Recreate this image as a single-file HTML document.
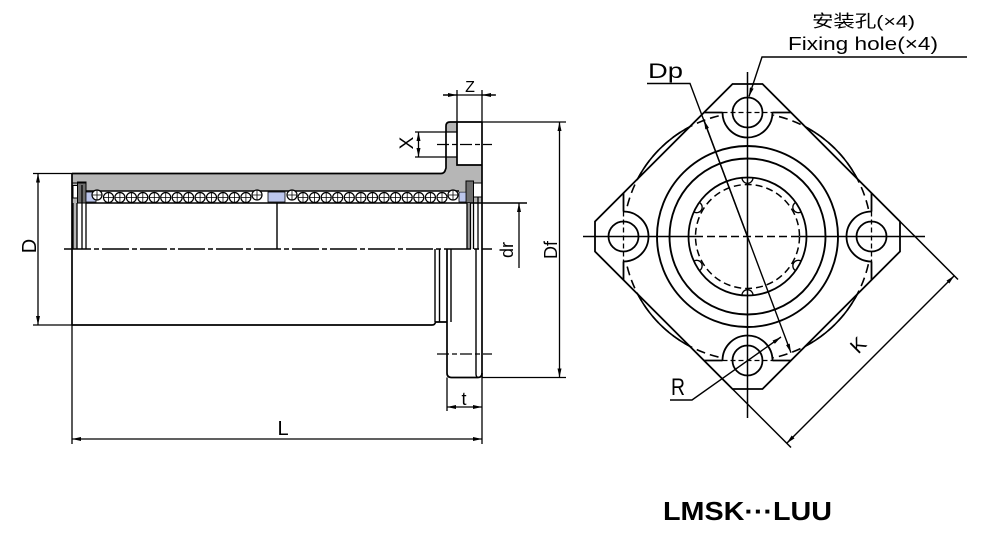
<!DOCTYPE html>
<html><head><meta charset="utf-8"><style>html,body{margin:0;padding:0;background:#fff}svg{display:block}</style></head>
<body>
<svg width="993" height="541" viewBox="0 0 993 541" xmlns="http://www.w3.org/2000/svg" font-family="'Liberation Sans', sans-serif">
<defs>
<marker id="a" viewBox="0 0 9 4" refX="9" refY="2" markerWidth="9" markerHeight="4" markerUnits="userSpaceOnUse" orient="auto-start-reverse"><path d="M0,0 L9,2 L0,4 z" fill="#000"/></marker>
</defs>
<rect width="993" height="541" fill="#fff"/>

<!-- ================= LEFT VIEW ================= -->
<g stroke="#000" fill="none" stroke-width="1.7">
<path d="M72,173.5 L441,173.5 Q444.5,173.5 445.5,169.5 L446,168 L446,126 Q446,122 450,122 L457,122 L457,165 L482,165 L482,191 L86,191 L86,183 L72,183 Z" fill="#b6b6b6" stroke="none"/>
<rect x="446" y="132" width="11" height="25" fill="#fff" stroke="none"/>
<rect x="72" y="183" width="14" height="20" fill="#b6b6b6" stroke="none"/>
<rect x="77.5" y="182" width="8.5" height="21" fill="#6f6f6f" stroke-width="1"/>
<rect x="73" y="185.5" width="4.5" height="12.5" fill="#fff" stroke-width="1"/>
<rect x="86" y="192" width="10" height="10" fill="#bcc6ec" stroke-width="0.8"/>
<rect x="268" y="192" width="17" height="10" fill="#bcc6ec" stroke-width="0.8"/>
<rect x="466" y="181" width="16" height="22" fill="#b6b6b6" stroke="none"/>
<rect x="466" y="181" width="7.5" height="22" fill="#6f6f6f" stroke-width="1"/>
<rect x="473.5" y="183" width="8.5" height="14" fill="#fff" stroke-width="1"/>
<rect x="459" y="192" width="7" height="10" fill="#bcc6ec" stroke-width="0.8"/>

<path d="M72,173.5 L441,173.5 Q444.5,173.5 445.5,169.5 L446,168 L446,126 Q446,122 450,122 L482,122"/>
<path d="M457,122 L457,165 L482,165"/>
<path d="M482,122 L482,377.5"/>
<path d="M72,173.5 L72,325"/>
<path d="M86,191 L459,191" stroke-width="1.4"/>
<path d="M86,203 L527,203" stroke-width="1.4"/>
<path d="M72,183 L86,183" stroke-width="1"/>

<g fill="#fff" stroke-width="1.2">
<circle cx="97" cy="195" r="5"/><circle cx="108.5" cy="197.5" r="5"/><circle cx="119.9" cy="197.5" r="5"/><circle cx="131.4" cy="197.5" r="5"/><circle cx="142.8" cy="197.5" r="5"/><circle cx="154.3" cy="197.5" r="5"/><circle cx="165.7" cy="197.5" r="5"/><circle cx="177.2" cy="197.5" r="5"/><circle cx="188.6" cy="197.5" r="5"/><circle cx="200.1" cy="197.5" r="5"/><circle cx="211.5" cy="197.5" r="5"/><circle cx="223" cy="197.5" r="5"/><circle cx="234.4" cy="197.5" r="5"/><circle cx="245.9" cy="197.5" r="5"/><circle cx="257" cy="195" r="5"/>
<circle cx="292" cy="195" r="5"/><circle cx="303" cy="197.5" r="5"/><circle cx="314.6" cy="197.5" r="5"/><circle cx="326.2" cy="197.5" r="5"/><circle cx="337.7" cy="197.5" r="5"/><circle cx="349.3" cy="197.5" r="5"/><circle cx="360.9" cy="197.5" r="5"/><circle cx="372.5" cy="197.5" r="5"/><circle cx="384.1" cy="197.5" r="5"/><circle cx="395.6" cy="197.5" r="5"/><circle cx="407.2" cy="197.5" r="5"/><circle cx="418.8" cy="197.5" r="5"/><circle cx="430.4" cy="197.5" r="5"/><circle cx="442" cy="197.5" r="5"/><circle cx="453" cy="195" r="5"/>
</g>
<g stroke-width="0.8">
<path d="M92,195h10M97,190v10M103.5,197.5h10M108.5,192.5v10M114.9,197.5h10M119.9,192.5v10M126.4,197.5h10M131.4,192.5v10M137.8,197.5h10M142.8,192.5v10M149.3,197.5h10M154.3,192.5v10M160.7,197.5h10M165.7,192.5v10M172.2,197.5h10M177.2,192.5v10M183.6,197.5h10M188.6,192.5v10M195.1,197.5h10M200.1,192.5v10M206.5,197.5h10M211.5,192.5v10M218,197.5h10M223,192.5v10M229.4,197.5h10M234.4,192.5v10M240.9,197.5h10M245.9,192.5v10M252,195h10M257,190v10"/>
<path d="M287,195h10M292,190v10M298,197.5h10M303,192.5v10M309.6,197.5h10M314.6,192.5v10M321.2,197.5h10M326.2,192.5v10M332.7,197.5h10M337.7,192.5v10M344.3,197.5h10M349.3,192.5v10M355.9,197.5h10M360.9,192.5v10M367.5,197.5h10M372.5,192.5v10M379.1,197.5h10M384.1,192.5v10M390.6,197.5h10M395.6,192.5v10M402.2,197.5h10M407.2,192.5v10M413.8,197.5h10M418.8,192.5v10M425.4,197.5h10M430.4,192.5v10M437,197.5h10M442,192.5v10M448,195h10M453,190v10"/>
</g>

<rect x="73" y="203" width="4" height="46" fill="#b6b6b6" stroke="none"/>
<path d="M73,203V249M77,203V249M82,185V249M86,203V249" stroke-width="1.3"/>
<path d="M277,203V249" stroke-width="1.4"/>
<rect x="467" y="203" width="3.5" height="46" fill="#9a9a9a" stroke="none"/>
<path d="M467,203V249M470.5,203V249M473.5,203V249M478,197V249" stroke-width="1.3"/>

<path d="M72,325 L432,325 Q435,325 435.5,322 L447,322"/>
<path d="M435,249V322M439.5,249V322M451,249V322" stroke-width="1.4"/>
<path d="M447,249 L447,373 Q447,377.5 451.5,377.5 L478,377.5 Q482,377.5 482,373"/>
<path d="M476,249 L476,374 Q476,377 478,377.5" stroke-width="1.4"/>

<path d="M64,249 L492,249" stroke-width="1.4" stroke-dasharray="27,3,5,3"/>
<path d="M437,144.5 L492,144.5" stroke-width="1.3" stroke-dasharray="12,3,5,3"/>
<path d="M437,354 L492,354" stroke-width="1.3" stroke-dasharray="12,3,5,3"/>

<g stroke-width="1.3">
<path d="M33,173.5H72M33,325H72"/>
<path d="M38,173.5V325" marker-start="url(#a)" marker-end="url(#a)"/>
<path d="M482,122H566M482,377.5H566"/>
<path d="M559.5,122V377.5" marker-start="url(#a)" marker-end="url(#a)"/>
<path d="M519,203V268" marker-start="url(#a)"/>
<path d="M72,325V444M482,377.5V444"/>
<path d="M72,439H482" marker-start="url(#a)" marker-end="url(#a)"/>
<path d="M447,377.5V411"/>
<path d="M447,407H482" marker-start="url(#a)" marker-end="url(#a)"/>
<path d="M415,132H457M415,157H457"/>
<path d="M418.5,132V157" marker-start="url(#a)" marker-end="url(#a)"/>
<path d="M457,90V122M482,90V122"/>
<path d="M443,95H495"/>
<path d="M443,95H457" marker-end="url(#a)"/>
<path d="M496,95H482" marker-end="url(#a)"/>
</g>
</g>
<g fill="#000" font-size="18">
<text transform="translate(36,246) rotate(-90)" text-anchor="middle" font-size="20">D</text>
<text transform="translate(513,250) rotate(-90)" text-anchor="middle">dr</text>
<text transform="translate(557,250) rotate(-90)" text-anchor="middle">Df</text>
<text transform="translate(413,143) rotate(-90)" text-anchor="middle" font-size="19">X</text>
<text x="470" y="92" text-anchor="middle" font-size="16">Z</text>
<text x="464" y="405" text-anchor="middle">t</text>
<text x="283" y="435" text-anchor="middle" font-size="20">L</text>
</g>

<!-- ================= RIGHT VIEW ================= -->
<g stroke="#000" fill="none" stroke-width="1.6">
<circle cx="747.5" cy="236.5" r="124"/>
<polygon points="732.5,84 762.5,84 900,221.5 900,251.5 762.5,389 732.5,389 595,251.5 595,221.5" fill="#fff" stroke="none"/>
<circle cx="747.5" cy="236.5" r="124" stroke-dasharray="9,5"/>
<g fill="#fff" stroke="none">
<circle cx="747.5" cy="112.5" r="26"/><circle cx="747.5" cy="360.5" r="26"/>
<circle cx="623.5" cy="236.5" r="26"/><circle cx="871.5" cy="236.5" r="26"/>
</g>
<polygon points="732.5,84 762.5,84 900,221.5 900,251.5 762.5,389 732.5,389 595,251.5 595,221.5" stroke-width="1.8"/>
<path d="M900,221.5 L958,279.5M732.5,389 L791,447.5" stroke-width="1.5"/>
<circle cx="747.5" cy="236.5" r="90.5" stroke-width="1.9"/>
<circle cx="747.5" cy="236.5" r="78" stroke-width="1.9"/>
<circle cx="747.5" cy="236.5" r="59" stroke-width="1.8"/>
<circle cx="747.5" cy="236.5" r="52" stroke-width="1.5" stroke-dasharray="7,4"/>
<g stroke-width="1.3">
<path id="g0" d="M742,177.8 A5.5,5.5 0 0 0 753,177.8"/>
<use href="#g0" transform="rotate(60 747.5 236.5)"/>
<use href="#g0" transform="rotate(120 747.5 236.5)"/>
<use href="#g0" transform="rotate(180 747.5 236.5)"/>
<use href="#g0" transform="rotate(240 747.5 236.5)"/>
<use href="#g0" transform="rotate(300 747.5 236.5)"/>
</g>
<g stroke-width="1.8">
<circle cx="747.5" cy="112.5" r="15"/><circle cx="747.5" cy="360.5" r="15"/>
<circle cx="623.5" cy="236.5" r="15"/><circle cx="871.5" cy="236.5" r="15"/>
<path d="M722.5,112.5 A25,25 0 0 0 772.5,112.5"/>
<path d="M722.5,360.5 A25,25 0 0 1 772.5,360.5"/>
<path d="M623.5,211.5 A25,25 0 0 1 623.5,261.5"/>
<path d="M871.5,211.5 A25,25 0 0 0 871.5,261.5"/>
<path d="M704.5,112.5H722.5M772.5,112.5H790.5"/>
<path d="M704.5,360.5H722.5M772.5,360.5H790.5"/>
<path d="M623.5,193V211.5M623.5,261.5V280"/>
<path d="M871.5,193V211.5M871.5,261.5V280"/>
</g>
<g stroke-width="1.3" stroke-dasharray="5,3">
<path d="M722.5,112.5H772.5M722.5,360.5H772.5M623.5,211.5V261.5M871.5,211.5V261.5"/>
</g>
<path d="M583,236.5H695M800,236.5H925" stroke-width="1.5"/>
<path d="M695,236.5H800" stroke-width="1.5" stroke-dasharray="8,4"/>
<path d="M747.5,72V418" stroke-width="1.5"/>
<g stroke-width="1.4">
<path d="M647,83.5H690L791,352.7" marker-end="url(#a)"/>
<path d="M747.5,236.5L704,120.3" marker-end="url(#a)"/>
<path d="M967,57H762L749,96.5" marker-end="url(#a)"/>
<path d="M670,400H692L781,337" marker-end="url(#a)"/>
<path d="M786.75,443.25L954.25,275.75" marker-start="url(#a)" marker-end="url(#a)"/>
</g>
</g>
<g fill="#000">
<text x="648" y="78" font-size="21" textLength="35" lengthAdjust="spacingAndGlyphs">Dp</text>
<text x="812" y="27" font-size="17" textLength="103" lengthAdjust="spacingAndGlyphs" font-family="'Liberation Sans','Noto Sans CJK SC',sans-serif">安装孔(×4)</text>
<text x="788" y="50" font-size="18" textLength="150" lengthAdjust="spacingAndGlyphs">Fixing hole(×4)</text>
<text x="671" y="395" font-size="24" textLength="14" lengthAdjust="spacingAndGlyphs">R</text>
<text transform="translate(858,345) rotate(-45)" text-anchor="middle" y="7" font-size="20">K</text>
<text x="663" y="520" font-size="26" font-weight="bold" textLength="169" lengthAdjust="spacingAndGlyphs">LMSK···LUU</text>
</g>
</svg>
</body></html>
